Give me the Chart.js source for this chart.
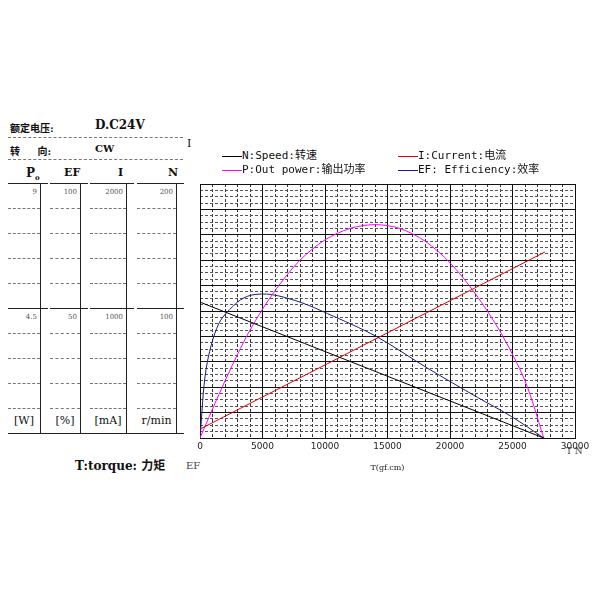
<!DOCTYPE html>
<html>
<head>
<meta charset="utf-8">
<script src="https://cdn.jsdelivr.net/npm/chart.js@4"></script>
<style>
  body { margin: 0; width: 600px; height: 600px; background: #fff; position: relative; font-family: "DejaVu Serif", "Noto Sans CJK SC", serif; overflow: hidden; }
  .t { position: absolute; white-space: nowrap; color: #111; }
  .b { font-weight: bold; }
  .s { font-size: 7px; color: #555; }
  .hl { position: absolute; height: 0; border-top: 1px solid #222; }
  .dl { position: absolute; height: 0; border-top: 1px dashed #777; }
  .vl { position: absolute; width: 0; border-left: 1px solid #222; }
  #wrap { position: absolute; left: 180px; top: 175px; width: 420px; height: 300px; }
</style>
</head>
<body>
<div class="t b" style="left:10px;top:120px;font-size:10px">额定电压:</div>
<div class="t b" style="left:95px;top:118px;font-size:12px">D.C24V</div>
<div class="dl" style="left:8px;top:137px;width:175px"></div>
<div class="t b" style="left:10px;top:143px;font-size:10px">转&nbsp;&nbsp;&nbsp;&nbsp;&nbsp;向:</div>
<div class="t b" style="left:95px;top:143px;font-size:10px">CW</div>
<div class="dl" style="left:8px;top:159px;width:175px"></div>
<div class="t" style="left:187px;top:137px;font-size:11px">I</div>

<div class="t b" style="left:26px;top:166px;font-size:12px">P<sub style="font-size:7px">o</sub></div>
<div class="t b" style="left:64px;top:166px;font-size:11px">EF</div>
<div class="t b" style="left:118px;top:166px;font-size:11px">I</div>
<div class="t b" style="left:168px;top:166px;font-size:11px">N</div>
<div id="table"></div>

<div class="t b" style="left:75px;top:456px;font-size:12px">T:torque: 力矩</div>
<div class="t" style="left:186px;top:460px;font-size:10px;color:#444">EF</div>
<div class="t" style="left:566px;top:446px;font-size:9px;color:#444">T N</div>

<div id="wrap"><canvas id="myChart" width="420" height="300"></canvas></div>
<script>
(() => {
'use strict'

// torque axis (gf.cm)
const torqueN = [0, 27500]
const speed = [107, 0]
const torqueI = [0, 27600]
const current = [7, 146.5]
const torqueP = [0, 2000, 4000, 6000, 8000, 10000, 12000, 14000, 16000, 18000, 20000, 22000, 24000, 26000, 27500]
const power = [0, 45, 85, 116, 140, 156, 165, 168, 165, 155, 138, 114, 84, 45, 0]
const torqueEF = [0, 500, 1500, 3000, 4100, 5700, 8000, 10200, 14100, 18200, 22200, 24900, 27500]
const efficiency = [0, 55, 90, 107, 112.5, 113, 107, 98, 80, 55, 32, 17, 0]
const xTicks = [0, 5000, 10000, 15000, 20000, 25000, 30000]

// left table rows
const colsX = [[8, 40], [50, 80], [90, 126], [137, 176]]
const topVals = ['9', '100', '2000', '200']
const midVals = ['4.5', '50', '1000', '100']
const units = ['[W]', '[%]', '[mA]', 'r/min']

const tb = document.getElementById('table')
const add = (cls, style, txt) => {
  const d = document.createElement('div')
  d.className = cls
  d.style.cssText = style
  if (txt) d.textContent = txt
  tb.appendChild(d)
}
colsX.forEach(([l, r], i) => {
  add('hl', `left:${l}px;top:183px;width:${r - l + 8}px`)
  add('hl', `left:${l}px;top:308px;width:${r - l + 8}px`)
  add('vl', `left:${r}px;top:183px;height:250px`)
  ;[208, 233, 258, 283, 333, 358, 383, 408].forEach(y => add('dl', `left:${l}px;top:${y}px;width:${r - l}px`))
  add('t s', `left:${l}px;width:${r - l - 3}px;text-align:right;top:188px`, topVals[i])
  add('t s', `left:${l}px;width:${r - l - 3}px;text-align:right;top:313px`, midVals[i])
  add('t', `left:${l}px;width:${r - l}px;text-align:center;top:414px;font-size:11px`, units[i])
})
add('hl', 'left:8px;top:433px;width:176px')

const pts = (xs, ys) => xs.map((x, i) => ({ x, y: ys[i] }))
const ds = (label, xs, ys, color) => ({
  label, data: pts(xs, ys), borderColor: color, backgroundColor: color,
  borderWidth: 1, pointRadius: 0, tension: 0.3, fill: false
})

// minor grid positions
const minorX = []
for (let v = 1000; v < 30000; v += 1000) if (v % 5000) minorX.push(v)

new Chart(document.getElementById('myChart'), {
  type: 'line',
  data: {
    datasets: [
      ds('N:Speed:转速', torqueN, speed, '#000'),
      ds('I:Current:电流', torqueI, current, '#e00000'),
      ds('P:Out power:输出功率', torqueP, power, '#ff00ff'),
      ds('EF: Efficiency:效率', torqueEF, efficiency, '#1a1a80')
    ]
  },
  options: {
    responsive: false,
    animation: false,
    layout: { padding: { left: 20, right: 25, top: 9, bottom: 0 } },
    plugins: { legend: { display: false }, tooltip: { enabled: false } },
    scales: {
      xMinor: {
        type: 'linear', min: 0, max: 30000, position: 'top',
        afterBuildTicks: s => { s.ticks = minorX.map(v => ({ value: v })) },
        ticks: { display: false, autoSkip: false },
        grid: { color: '#333', lineWidth: 1, drawTicks: false },
        border: { display: false, dash: [3, 2] },
        afterFit: s => { s.height = 0 }
      },
      yMinor: {
        type: 'linear', min: 0, max: 200, position: 'left',
        ticks: { display: false, stepSize: 5, maxTicksLimit: 100, autoSkip: false },
        grid: { color: c => c.tick.value % 20 === 0 ? 'transparent' : '#555', drawTicks: false },
        border: { display: false, dash: [3, 2] },
        afterFit: s => { s.width = 0 }
      },
      x: {
        type: 'linear', min: 0, max: 30000, position: 'bottom',
        afterBuildTicks: s => { s.ticks = xTicks.map(v => ({ value: v })) },
        ticks: { color: '#222', font: { size: 9, family: 'DejaVu Sans' }, maxRotation: 0, padding: 3, callback: v => String(v) },
        grid: { color: '#111', lineWidth: 1, drawTicks: false },
        border: { color: '#111' },
        title: { display: true, text: 'T(gf.cm)', color: '#222', font: { size: 8, family: 'DejaVu Serif' }, padding: 2 },
        afterFit: s => { s.height = 37 }
      },
      y: {
        type: 'linear', min: 0, max: 200, position: 'left',
        ticks: { display: false, stepSize: 20 },
        grid: { color: '#111', lineWidth: 1, drawTicks: false },
        border: { color: '#111' },
        afterFit: s => { s.width = 0 }
      }
    }
  }
})

// legend in the page text
const leg = [
  ['N:Speed:转速', '#000', 222, 146], ['I:Current:电流', '#e00000', 398, 146],
  ['P:Out power:输出功率', '#ff00ff', 222, 160], ['EF: Efficiency:效率', '#1a1a80', 398, 160]
]
leg.forEach(([t, c, x, y]) => {
  const d = document.createElement('div')
  d.className = 't'
  d.style.cssText = `left:${x}px;top:${y}px;font-size:11px;font-family:'DejaVu Sans Mono','Noto Sans CJK SC',monospace`
  d.innerHTML = `<span style="display:inline-block;width:20px;border-top:1px solid ${c};vertical-align:middle"></span>`
  d.appendChild(document.createTextNode(t))
  document.body.appendChild(d)
})
})()
</script>
</body>
</html>
